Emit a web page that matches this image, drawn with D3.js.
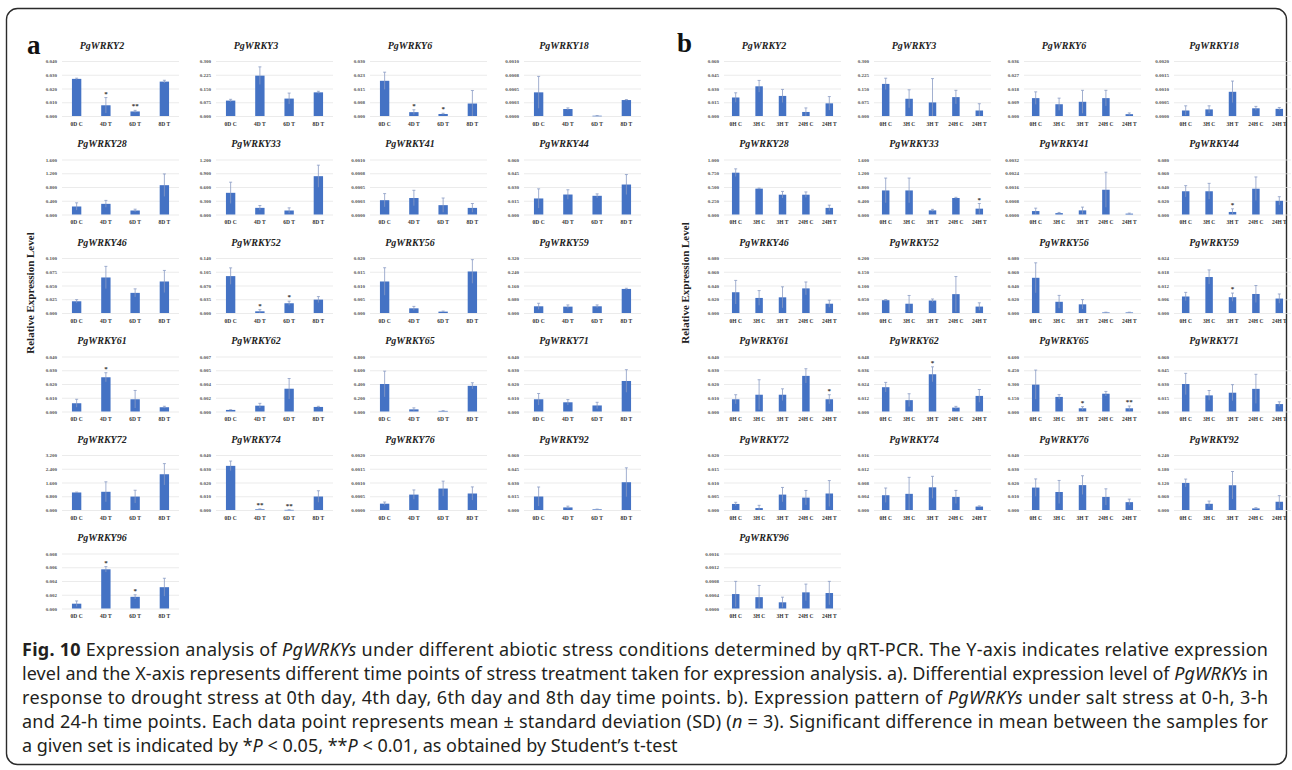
<!DOCTYPE html>
<html><head><meta charset="utf-8">
<script src="https://cdn.jsdelivr.net/npm/d3@7"></script>
<style>body{margin:0;background:#fff}svg{display:block}</style>
</head><body><svg id="c" width="1292" height="770"></svg>
<script>
// ---------- DATA ----------
const catsA = ["0D C","4D T","6D T","8D T"];
const catsB = ["0H C","3H C","3H T","24H C","24H T"];

const genesA = ["PgWRKY2","PgWRKY3","PgWRKY6","PgWRKY18","PgWRKY28","PgWRKY33","PgWRKY41","PgWRKY44",
  "PgWRKY46","PgWRKY52","PgWRKY56","PgWRKY59","PgWRKY61","PgWRKY62","PgWRKY65","PgWRKY71",
  "PgWRKY72","PgWRKY74","PgWRKY76","PgWRKY92","PgWRKY96"];
const genesB = genesA.slice();

const maxA = [0.040,0.300,0.030,0.0010,1.600,1.200,0.0010,0.060,0.100,0.140,0.020,0.320,0.040,0.007,0.800,0.040,3.200,0.040,0.0020,0.060,0.008];
const ticksA = [
 ["0.000","0.010","0.020","0.030","0.040"],["0.000","0.075","0.150","0.225","0.300"],
 ["0.000","0.008","0.015","0.023","0.030"],["0.0000","0.0003","0.0005","0.0008","0.0010"],
 ["0.000","0.400","0.800","1.200","1.600"],["0.000","0.300","0.600","0.900","1.200"],
 ["0.0000","0.0003","0.0005","0.0008","0.0010"],["0.000","0.015","0.030","0.045","0.060"],
 ["0.000","0.025","0.050","0.075","0.100"],["0.000","0.035","0.070","0.105","0.140"],
 ["0.000","0.005","0.010","0.015","0.020"],["0.000","0.080","0.160","0.240","0.320"],
 ["0.000","0.010","0.020","0.030","0.040"],["0.000","0.002","0.004","0.005","0.007"],
 ["0.000","0.200","0.400","0.600","0.800"],["0.000","0.010","0.020","0.030","0.040"],
 ["0.000","0.800","1.600","2.400","3.200"],["0.000","0.010","0.020","0.030","0.040"],
 ["0.0000","0.0005","0.0010","0.0015","0.0020"],["0.000","0.015","0.030","0.045","0.060"],
 ["0.000","0.002","0.004","0.006","0.008"]];
const meanA = [
 [0.0270,0.0078,0.0033,0.0250],[0.084,0.220,0.095,0.129],[0.0192,0.0021,0.0011,0.0068],[0.00043,0.000127,0.000005,0.00029],
 [0.233,0.310,0.116,0.853],[0.473,0.145,0.087,0.836],[0.00026,0.00030,0.00017,0.00012],[0.0175,0.0218,0.0204,0.0327],
 [0.0213,0.0646,0.0366,0.0573],[0.0939,0.0043,0.0248,0.0341],[0.01146,0.0017,0.0005,0.0151],[0.039,0.037,0.039,0.140],
 [0.0060,0.0249,0.0089,0.0031],[0.0002,0.00074,0.0029,0.00058],[0.400,0.031,0.009,0.373],[0.0089,0.0067,0.0044,0.0222],
 [1.02,1.06,0.78,2.08],[0.0321,0.0005,0.0001,0.0098],[0.00023,0.00056,0.00078,0.00060],[0.0147,0.0028,0.0007,0.0303],
 [0.0007,0.0057,0.0017,0.0031]];
const sdA = [
 [0.0005,0.0056,0.0008,0.0010],[0.007,0.048,0.030,0.006],[0.0047,0.0013,0.0004,0.0071],[0.00029,0.00002,0.000003,0.00001],
 [0.107,0.100,0.039,0.327],[0.232,0.051,0.058,0.240],[0.00012,0.00014,0.00013,0.00008],[0.0105,0.0052,0.0021,0.0109],
 [0.0030,0.0202,0.0073,0.0201],[0.0210,0.0042,0.0052,0.0077],[0.0050,0.0007,0.0002,0.0043],[0.0176,0.010,0.008,0.004],
 [0.0029,0.0033,0.0064,0.0007],[0.00003,0.0003,0.0013,0.00008],[0.187,0.022,0.003,0.045],[0.0042,0.0020,0.0023,0.0082],
 [0.02,0.58,0.37,0.62],[0.0035,0.0003,0.0001,0.0042],[0.00006,0.00017,0.00027,0.00024],[0.0104,0.0014,0.0003,0.0157],
 [0.0004,0.0004,0.0003,0.0013]];
const sigA = [
 ["","*","**",""],["","","",""],["","*","*",""],["","","",""],
 ["","","",""],["","","",""],["","","",""],["","","",""],
 ["","","",""],["","*","*",""],["","","",""],["","","",""],
 ["","*","",""],["","","",""],["","","",""],["","","",""],
 ["","","",""],["","**","**",""],["","","",""],["","","",""],
 ["","*","*",""]];

const maxB = [0.060,0.300,0.036,0.0020,1.000,1.600,0.0032,0.080,0.080,0.200,0.080,0.024,0.040,0.048,0.600,0.060,0.020,0.016,0.040,0.240,0.0016];
const ticksB = [
 ["0.000","0.015","0.030","0.045","0.060"],["0.000","0.075","0.150","0.225","0.300"],
 ["0.000","0.009","0.018","0.027","0.036"],["0.0000","0.0005","0.0010","0.0015","0.0020"],
 ["0.000","0.250","0.500","0.750","1.000"],["0.000","0.400","0.800","1.200","1.600"],
 ["0.0000","0.0008","0.0016","0.0024","0.0032"],["0.000","0.020","0.040","0.060","0.080"],
 ["0.000","0.020","0.040","0.060","0.080"],["0.000","0.050","0.100","0.150","0.200"],
 ["0.000","0.020","0.040","0.060","0.080"],["0.000","0.006","0.012","0.018","0.024"],
 ["0.000","0.010","0.020","0.030","0.040"],["0.000","0.012","0.024","0.036","0.048"],
 ["0.000","0.150","0.300","0.450","0.600"],["0.000","0.015","0.030","0.045","0.060"],
 ["0.000","0.005","0.010","0.015","0.020"],["0.000","0.004","0.008","0.012","0.016"],
 ["0.000","0.010","0.020","0.030","0.040"],["0.000","0.060","0.120","0.180","0.240"],
 ["0.0000","0.0004","0.0008","0.0012","0.0016"]];
const meanB = [
 [0.0202,0.0324,0.0219,0.0044,0.0138],[0.175,0.094,0.074,0.103,0.030],[0.0117,0.0077,0.0093,0.0117,0.0012],[0.00020,0.00024,0.00088,0.00028,0.00026],
 [0.76,0.47,0.36,0.36,0.12],[0.70,0.70,0.12,0.48,0.17],[0.00020,0.00008,0.00024,0.00144,0.00005],[0.0338,0.0338,0.0037,0.0375,0.0199],
 [0.0302,0.0219,0.0228,0.0358,0.0135],[0.0465,0.0337,0.0453,0.0686,0.0233],[0.0512,0.0163,0.0126,0.0008,0.0008],[0.0072,0.0157,0.0069,0.0083,0.0063],
 [0.0089,0.0122,0.0122,0.0259,0.0089],[0.0212,0.0099,0.0325,0.0034,0.0136],[0.293,0.159,0.035,0.194,0.035],[0.0300,0.0176,0.0205,0.0247,0.0081],
 [0.0022,0.0007,0.0056,0.0045,0.0060],[0.0043,0.0047,0.0066,0.0038,0.0010],[0.0163,0.0131,0.0181,0.0095,0.0057],[0.118,0.027,0.108,0.007,0.036],
 [0.00042,0.00033,0.00018,0.00047,0.00045]];
const sdB = [
 [0.0051,0.0064,0.0071,0.0044,0.0074],[0.031,0.049,0.130,0.037,0.037],[0.0041,0.0040,0.0075,0.0051,0.0008],[0.00017,0.00013,0.00039,0.00007,0.00005],
 [0.07,0.01,0.06,0.05,0.05],[0.36,0.36,0.03,0.02,0.15],[0.00017,0.00004,0.00019,0.00102,0.00003],[0.0082,0.0115,0.0046,0.0171,0.0060],
 [0.0172,0.0107,0.0153,0.0093,0.0051],[0.0025,0.0300,0.0057,0.0640,0.0137],[0.0218,0.0093,0.0069,0.0004,0.0004],[0.0018,0.0031,0.0018,0.0037,0.0020],
 [0.0033,0.0109,0.0043,0.0052,0.0033],[0.0042,0.0056,0.0065,0.0011,0.0056],[0.159,0.025,0.018,0.025,0.025],[0.0116,0.0053,0.0088,0.0159,0.0025],
 [0.0006,0.0010,0.0026,0.0026,0.0047],[0.0021,0.0048,0.0032,0.0019,0.0002],[0.0063,0.0084,0.0068,0.0059,0.0022],[0.017,0.012,0.060,0.003,0.027],
 [0.00037,0.00034,0.00015,0.00024,0.00034]];
const sigB = [
 ["","","","",""],["","","","",""],["","","","",""],["","","","",""],
 ["","","","",""],["","","","","*"],["","","","",""],["","","*","",""],
 ["","","","",""],["","","","",""],["","","","",""],["","","*","",""],
 ["","","","","*"],["","","*","",""],["","","*","","**"],["","","","",""],
 ["","","","",""],["","","","",""],["","","","",""],["","","","",""],
 ["","","","",""]];

const yAxisTitle = "Relative Expression Level";
const captionLines = [
 [["b","Fig. 10"],["n"," Expression analysis of "],["i","PgWRKYs"],["n"," under different abiotic stress conditions determined by qRT-PCR. The Y-axis indicates relative expression"]],
 [["n","level and the X-axis represents different time points of stress treatment taken for expression analysis. a). Differential expression level of "],["i","PgWRKYs"],["n"," in"]],
 [["n","response to drought stress at 0th day, 4th day, 6th day and 8th day time points. b). Expression pattern of "],["i","PgWRKYs"],["n"," under salt stress at 0-h, 3-h"]],
 [["n","and 24-h time points. Each data point represents mean ± standard deviation (SD) ("],["i","n"],["n"," = 3). Significant difference in mean between the samples for"]],
 [["n","a given set is indicated by *"],["i","P"],["n"," < 0.05, **"],["i","P"],["n"," < 0.01, as obtained by Student’s t-test"]]
];

// ---------- DRAW ----------
const svg = d3.select("#c");
svg.append("rect").attr("width",1292).attr("height",770).attr("fill","#fff");
svg.append("rect").attr("x",6.5).attr("y",8.5).attr("width",1280).attr("height",756).attr("rx",11)
   .attr("fill","none").attr("stroke","#2b2b2b").attr("stroke-width",1.4);

const SERIF = "'Liberation Serif','Times New Roman',serif";
const BAR = "#4472c4", ERR = "#8a9cc4";

function chart(g, gene, cats, tlab, max, means, sds, sigs, x0, titleY, w) {
  const top = titleY + 16, bot = titleY + 71;
  const y = d3.scaleLinear().domain([0, max]).range([bot, top]);
  const x = d3.scaleBand().domain(cats).range([x0, x0 + w]).paddingInner(0.68).paddingOuter(0.34);
  const tv = tlab.map((t, i) => max * i / 4);
  const ax = g.append("g").attr("transform", `translate(${x0},0)`)
    .call(d3.axisLeft(y).tickValues(tv).tickFormat((d, i) => tlab[i]).tickSize(-w).tickPadding(5));
  ax.select(".domain").remove();
  ax.selectAll(".tick line").attr("stroke", "#e2e2e2").attr("stroke-width", 0.7);
  ax.selectAll(".tick text").attr("font-family", SERIF).attr("font-weight", "bold")
    .attr("font-size", 5).attr("fill", "#555");
  g.append("text").attr("x", x0 + 40).attr("y", titleY + 3.5).attr("text-anchor", "middle")
    .attr("font-family", SERIF).attr("font-weight", "bold").attr("font-style", "italic")
    .attr("font-size", 10).attr("fill", "#222").text(gene);
  const xa = g.append("g").attr("transform", `translate(0,${bot})`)
    .call(d3.axisBottom(x).tickSize(0).tickPadding(6));
  xa.select(".domain").remove();
  xa.selectAll(".tick text").attr("font-family", SERIF).attr("font-weight", "bold")
    .attr("font-size", 5.5).attr("fill", "#333");
  const d = cats.map((c, i) => ({c, m: means[i], s: sds[i], sig: sigs[i]}));
  g.selectAll(".bar").data(d).join("rect")
    .attr("x", e => x(e.c)).attr("width", x.bandwidth())
    .attr("y", e => y(e.m)).attr("height", e => Math.max(0.6, bot - y(e.m))).attr("fill", BAR);
  const eb = g.selectAll(".eb").data(d).join("g");
  eb.append("line").attr("x1", e => x(e.c) + x.bandwidth() / 2).attr("x2", e => x(e.c) + x.bandwidth() / 2)
    .attr("y1", e => y(Math.max(0, e.m - e.s))).attr("y2", e => y(e.m + e.s))
    .attr("stroke", ERR).attr("stroke-width", 0.8);
  eb.append("line").attr("x1", e => x(e.c) + x.bandwidth() / 2 - 1.5).attr("x2", e => x(e.c) + x.bandwidth() / 2 + 1.5)
    .attr("y1", e => y(e.m + e.s)).attr("y2", e => y(e.m + e.s))
    .attr("stroke", ERR).attr("stroke-width", 0.8);
  g.selectAll(".sig").data(d.filter(e => e.sig)).join("text")
    .attr("x", e => x(e.c) + x.bandwidth() / 2).attr("y", e => y(e.m + e.s) - 2)
    .attr("text-anchor", "middle").attr("font-family", SERIF).attr("font-weight", "bold")
    .attr("font-size", 7).attr("fill", "#333").text(e => e.sig);
}

const ROW0 = 45, PITCH = 98.5;
const gA = svg.append("g");
genesA.forEach((gn, i) => {
  const r = Math.floor(i / 4), c = i % 4;
  chart(gA, gn, catsA, ticksA[i], maxA[i], meanA[i], sdA[i], sigA[i], 62 + c * 154, ROW0 + r * PITCH, 117);
});
const gB = svg.append("g");
genesB.forEach((gn, i) => {
  const r = Math.floor(i / 4), c = i % 4;
  chart(gB, gn, catsB, ticksB[i], maxB[i], meanB[i], sdB[i], sigB[i], 724 + c * 150, ROW0 + r * PITCH, 117);
});

// panel letters
svg.append("text").attr("x", 27).attr("y", 54).attr("font-family", SERIF).attr("font-weight", "bold")
  .attr("font-size", 27).attr("fill", "#111").text("a");
svg.append("text").attr("x", 677).attr("y", 52).attr("font-family", SERIF).attr("font-weight", "bold")
  .attr("font-size", 27).attr("fill", "#111").text("b");
// y axis titles
[[34, 293], [689, 283]].forEach(([xx, yy]) => {
  svg.append("text").attr("transform", `translate(${xx},${yy}) rotate(-90)`).attr("text-anchor", "middle")
    .attr("font-family", SERIF).attr("font-weight", "bold").attr("font-size", 11).attr("fill", "#222")
    .text(yAxisTitle);
});

// caption
const cap = svg.append("g");
captionLines.forEach((ln, i) => {
  const t = cap.append("text").attr("x", 22).attr("y", 656 + i * 24)
    .attr("font-family", "'Noto Sans','Open Sans',sans-serif").attr("font-size", 18).attr("fill", "#231f20");
  ln.forEach(([s, str]) => {
    const ts = t.append("tspan").text(str);
    if (s === "b") ts.attr("font-weight", "bold");
    if (s === "i") ts.attr("font-style", "italic");
  });
  if (i < 4) t.attr("textLength", 1246).attr("lengthAdjust", "spacing");
});
</script></body></html>
